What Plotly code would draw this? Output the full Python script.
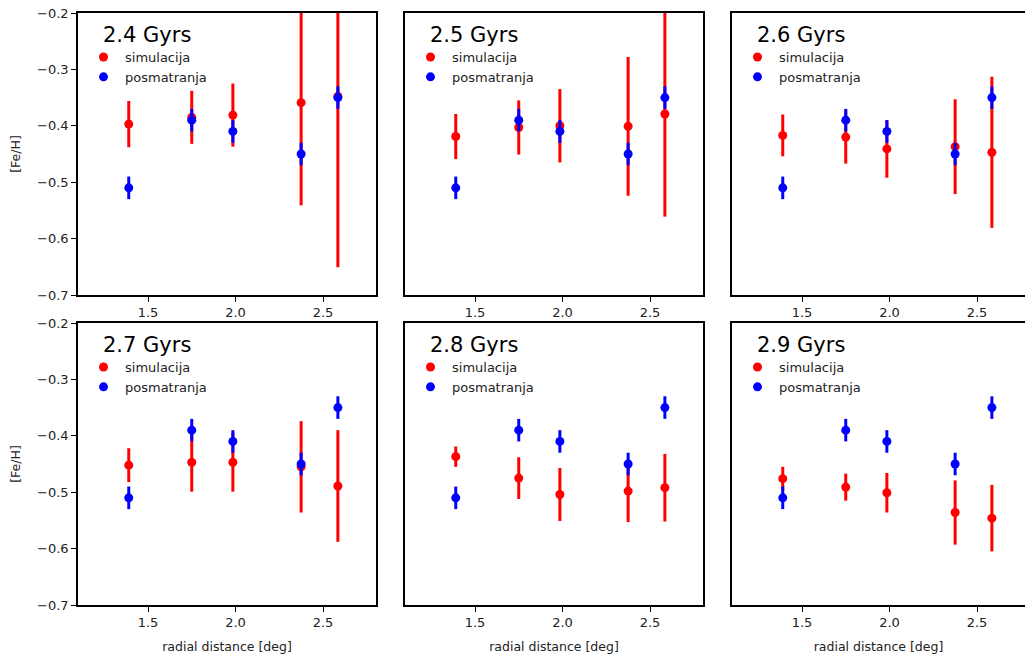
import plotly.graph_objects as go

# radijalna rastojanja i posmatrane vrednosti (iste za sve panele)
r_dist = [1.39, 1.75, 1.985, 2.375, 2.585]
obs_feh = [-0.51, -0.39, -0.41, -0.45, -0.35]
obs_err = [0.02, 0.02, 0.02, 0.02, 0.02]

ages = ["2.4 Gyrs", "2.5 Gyrs", "2.6 Gyrs", "2.7 Gyrs", "2.8 Gyrs", "2.9 Gyrs"]

sim_24 = [-0.397, -0.385, -0.381, -0.359, -0.348]
err_24 = [0.041, 0.047, 0.056, 0.182, 0.303]
sim_25 = [-0.419, -0.403, -0.400, -0.401, -0.379]
err_25 = [0.040, 0.048, 0.065, 0.123, 0.182]
sim_26 = [-0.417, -0.420, -0.441, -0.437, -0.447]
err_26 = [0.037, 0.047, 0.051, 0.084, 0.134]
sim_27 = [-0.452, -0.447, -0.447, -0.455, -0.489]
err_27 = [0.030, 0.052, 0.052, 0.081, 0.099]
sim_28 = [-0.437, -0.475, -0.504, -0.498, -0.492]
err_28 = [0.018, 0.037, 0.047, 0.055, 0.060]
sim_29 = [-0.476, -0.491, -0.501, -0.536, -0.546]
err_29 = [0.021, 0.024, 0.035, 0.057, 0.059]

sim_all = [sim_24, sim_25, sim_26, sim_27, sim_28, sim_29]
err_all = [err_24, err_25, err_26, err_27, err_28, err_29]

W, H = 1025, 656
# pozicije panela u pikselima
col_left = [78, 405, 732]
col_w = 298
row_top = [13, 323]
row_h = 282
px_per_unit = 175.0

font_fam = "DejaVu Sans"
fig = go.Figure()

for i in range(6):
    r, c = divmod(i, 3)
    n = i + 1
    xa = "x" if n == 1 else "x%d" % n
    ya = "y" if n == 1 else "y%d" % n
    lg = "legend" if n == 1 else "legend%d" % n

    fig.add_trace(go.Scatter(
        x=r_dist, y=sim_all[i], mode="markers", name="simulacija",
        marker=dict(color="#ff0000", size=9),
        error_y=dict(type="data", array=err_all[i], color="#ff0000", thickness=3, width=0),
        xaxis=xa, yaxis=ya, legend=lg))
    fig.add_trace(go.Scatter(
        x=r_dist, y=obs_feh, mode="markers", name="posmatranja",
        marker=dict(color="#0000ff", size=9),
        error_y=dict(type="data", array=obs_err, color="#0000ff", thickness=3, width=0),
        xaxis=xa, yaxis=ya, legend=lg))

    x0 = col_left[c]
    x1 = min(x0 + col_w, W + 6)
    xmax = 1.1 + (x1 - x0) / px_per_unit
    y_top = row_top[r]
    y_bot = y_top + row_h

    xkey = "xaxis" if n == 1 else "xaxis%d" % n
    ykey = "yaxis" if n == 1 else "yaxis%d" % n
    fig.layout[xkey] = dict(
        domain=[x0 / W, min(x1 / W, 1.0)], range=[1.1, min(xmax, 1.1 + (W - x0) / px_per_unit)],
        anchor=ya, automargin=False,
        tickvals=[1.5, 2.0, 2.5], ticktext=["1.5", "2.0", "2.5"],
        ticks="outside", ticklen=5, tickwidth=1.2, tickcolor="black",
        showline=True, linecolor="black", linewidth=1.5, mirror=True,
        showgrid=False, zeroline=False,
        tickfont=dict(family=font_fam, size=13, color="#222"),
        title=dict(text="radial distance [deg]" if r == 1 else "",
                   font=dict(family=font_fam, size=12.5, color="#222"), standoff=13))
    fig.layout[ykey] = dict(
        domain=[1 - y_bot / H, 1 - y_top / H], range=[-0.7, -0.2], anchor=xa,
        automargin=False, ticklabeloverflow="allow",
        tickvals=[-0.7, -0.6, -0.5, -0.4, -0.3, -0.2],
        ticks="outside" if c == 0 else "", ticklen=5, tickwidth=1.2, tickcolor="black",
        showticklabels=(c == 0), tickformat=".1f",
        showline=True, linecolor="black", linewidth=1.5, mirror=(c < 2),
        showgrid=False, zeroline=False,
        tickfont=dict(family=font_fam, size=13, color="#222"),
        title=dict(text="[Fe/H]" if c == 0 else "",
                   font=dict(family=font_fam, size=12.5, color="#222"), standoff=14))

    fig.layout[lg] = dict(
        x=(x0 + 4) / W, y=1 - (y_top + 29) / H, xanchor="left", yanchor="top",
        bgcolor="rgba(0,0,0,0)", borderwidth=0, itemwidth=33,
        font=dict(family=font_fam, size=13, color="#222"))

    fig.add_annotation(
        text=ages[i], xref="paper", yref="paper",
        x=(x0 + 23) / W, y=1 - (y_top + 22) / H, xanchor="left", yanchor="middle",
        showarrow=False, font=dict(family=font_fam, size=21, color="black"))

fig.update_layout(
    width=W, height=H, margin=dict(l=0, r=0, t=0, b=0),
    paper_bgcolor="white", plot_bgcolor="white", showlegend=True)

# bez podrazumevane margine stranice, da grafik pocinje u uglu prozora
fig.write_html("out.html", config={"displayModeBar": False},
               post_script="document.body.style.margin='0';")
